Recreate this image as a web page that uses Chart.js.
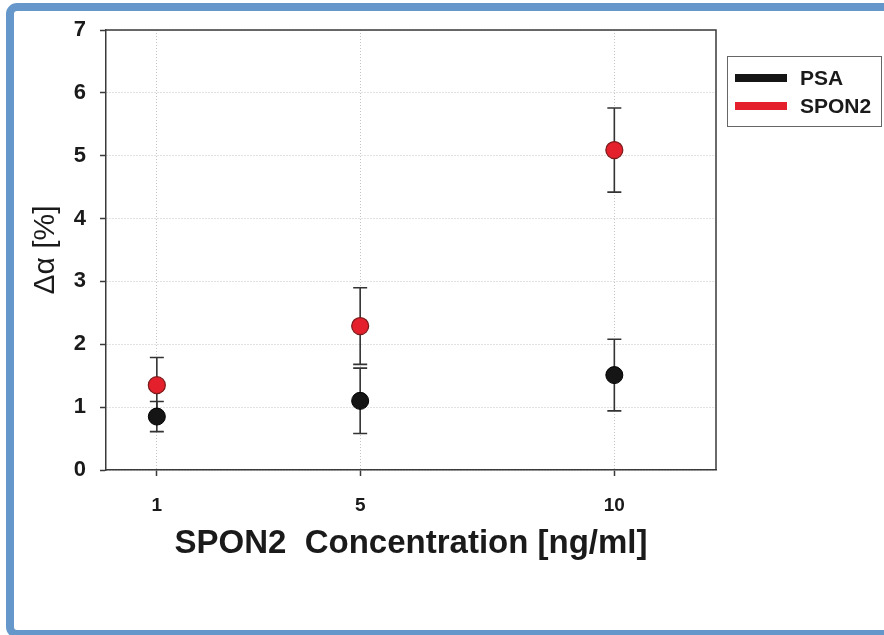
<!DOCTYPE html>
<html>
<head>
<meta charset="utf-8">
<script src="https://cdn.jsdelivr.net/npm/chart.js@4/dist/chart.umd.min.js"></script>
<style>
  html, body { margin: 0; padding: 0; background: #fff; }
  canvas { display: block; }
</style>
</head>
<body>
<canvas id="c" width="884" height="635"></canvas>
<script>
// SPON2 concentrations (ng/ml) and measured shift Δα (%) with error half-widths
const concentrations = [1, 5, 10];
const psaMean   = [0.85, 1.10, 1.51];
const psaErr    = [0.24, 0.52, 0.57];
const spon2Mean = [1.35, 2.29, 5.09];
const spon2Err  = [0.44, 0.61, 0.67];
const xTicks = [1, 5, 10];
const yTicks = [0, 1, 2, 3, 4, 5, 6, 7];
const seriesNames = ['PSA', 'SPON2'];

const FONT = '"Liberation Sans", Arial, Helvetica, sans-serif';
const AXIS_COLOR = '#3a3a3a';
const GRID_COLOR = '#c4c4c4';

const errors = [psaErr, spon2Err];

function points(means) {
  return concentrations.map((c, i) => ({ x: c, y: means[i] }));
}

const decor = {
  id: 'decor',
  beforeDraw(chart) {
    const { ctx, width, height } = chart;
    ctx.save();
    ctx.fillStyle = '#ffffff';
    ctx.fillRect(0, 0, width, height);
    // blue page frame
    ctx.strokeStyle = '#6597ca';
    ctx.lineWidth = 8;
    ctx.beginPath();
    ctx.roundRect(10, 7, 900, 627, 7);
    ctx.stroke();
    ctx.restore();
  },
  beforeDatasetsDraw(chart) {
    const { ctx, chartArea: a } = chart;
    const xs = chart.scales.x, ys = chart.scales.y;
    ctx.save();
    // closing top and right edges of the plot frame
    ctx.strokeStyle = AXIS_COLOR;
    ctx.lineWidth = 1.5;
    ctx.beginPath();
    ctx.moveTo(a.left, a.top);
    ctx.lineTo(a.right, a.top);
    ctx.lineTo(a.right, a.bottom);
    ctx.stroke();
    // error bars with caps
    ctx.strokeStyle = '#333333';
    ctx.lineWidth = 1.6;
    chart.data.datasets.forEach((ds, di) => {
      ds.data.forEach((p, i) => {
        const e = errors[di][i];
        const x = xs.getPixelForValue(p.x);
        const yHi = ys.getPixelForValue(p.y + e);
        const yLo = ys.getPixelForValue(p.y - e);
        const cap = 7;
        ctx.beginPath();
        ctx.moveTo(x, yHi); ctx.lineTo(x, yLo);
        ctx.moveTo(x - cap, yHi); ctx.lineTo(x + cap, yHi);
        ctx.moveTo(x - cap, yLo); ctx.lineTo(x + cap, yLo);
        ctx.stroke();
      });
    });
    ctx.restore();
  },
  afterDraw(chart) {
    const { ctx } = chart;
    ctx.save();
    // legend box
    ctx.strokeStyle = '#666666';
    ctx.lineWidth = 1;
    ctx.strokeRect(727.5, 56.5, 154, 70);
    const rows = [78, 106];
    chart.data.datasets.forEach((ds, i) => {
      ctx.fillStyle = ds.backgroundColor;
      ctx.fillRect(735, rows[i] - 4, 52, 8);
      ctx.fillStyle = '#1a1a1a';
      ctx.font = 'bold 21px ' + FONT;
      ctx.textBaseline = 'middle';
      ctx.textAlign = 'left';
      ctx.fillText(ds.label, 800, rows[i] + 1);
    });
    ctx.restore();
  }
};

new Chart(document.getElementById('c'), {
  type: 'scatter',
  data: {
    datasets: [
      {
        label: seriesNames[0],
        data: points(psaMean),
        backgroundColor: '#151515',
        borderColor: '#000000',
        borderWidth: 1,
        pointRadius: 8.5
      },
      {
        label: seriesNames[1],
        data: points(spon2Mean),
        backgroundColor: '#e3202b',
        borderColor: '#7a1a1a',
        borderWidth: 1.2,
        pointRadius: 8.5
      }
    ]
  },
  options: {
    responsive: false,
    animation: false,
    devicePixelRatio: 1,
    layout: { padding: { left: 14, top: 30, right: 168, bottom: 0 } },
    plugins: {
      legend: { display: false },
      tooltip: { enabled: false }
    },
    scales: {
      x: {
        type: 'linear',
        min: 0,
        max: 12,
        afterBuildTicks(scale) { scale.ticks = xTicks.map(v => ({ value: v })); },
        afterFit(scale) { scale.height = 165; },
        grid: {
          color: GRID_COLOR,
          lineWidth: 1,
          tickLength: 6,
          tickColor: AXIS_COLOR,
          tickWidth: 1.5,
          tickBorderDash: []
        },
        border: { color: AXIS_COLOR, width: 1.5, dash: [1, 2] },
        ticks: {
          color: '#1a1a1a',
          padding: 18,
          font: { family: FONT, size: 19, weight: 'bold' },
          callback: v => String(v)
        },
        title: {
          display: true,
          text: 'SPON2  Concentration [ng/ml]',
          color: '#1a1a1a',
          font: { family: FONT, size: 33, weight: 'bold' },
          padding: { top: 0, bottom: 71 }
        }
      },
      y: {
        type: 'linear',
        min: 0,
        max: 7,
        afterBuildTicks(scale) { scale.ticks = yTicks.map(v => ({ value: v })); },
        afterFit(scale) { scale.width = 92; },
        grid: {
          color: GRID_COLOR,
          lineWidth: 1,
          tickLength: 6,
          tickColor: AXIS_COLOR,
          tickWidth: 1.5,
          tickBorderDash: []
        },
        border: { color: AXIS_COLOR, width: 1.5, dash: [1, 2] },
        ticks: {
          color: '#1a1a1a',
          padding: 14,
          font: { family: FONT, size: 22, weight: 'bold' },
          callback: v => String(v)
        },
        title: {
          display: true,
          text: 'Δα [%]',
          color: '#1a1a1a',
          font: { family: FONT, size: 30, weight: 'normal' },
          padding: { top: 14, bottom: 0 }
        }
      }
    }
  },
  plugins: [decor]
});
</script>
</body>
</html>
